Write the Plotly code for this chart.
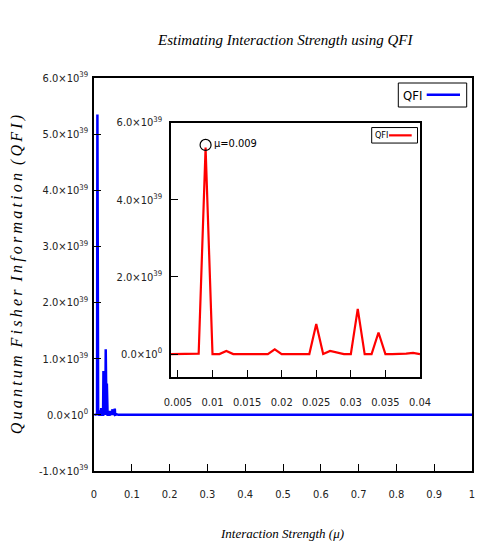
import plotly.graph_objects as go

# Interaction strength (mu) and QFI values
mu_head = [0.001, 0.002, 0.003]
qfi_head = [0.0, 0.0, 0.0]

mu_zoom = [0.004, 0.005, 0.006, 0.007, 0.008, 0.009, 0.010, 0.011, 0.012, 0.013,
           0.014, 0.015, 0.016, 0.017, 0.018, 0.019, 0.020, 0.021, 0.022, 0.023,
           0.024, 0.025, 0.026, 0.027, 0.028, 0.029, 0.030, 0.031, 0.032, 0.033,
           0.034, 0.035, 0.036, 0.037, 0.038, 0.039, 0.040]
qfi_zoom = [0.0, 0.0, 0.0, 0.0, 0.01e39, 5.35e39, 0.0, 0.0, 0.08e39, 0.0,
            0.0, 0.0, 0.0, 0.0, 0.0, 0.12e39, 0.0, 0.0, 0.0, 0.0,
            0.0, 0.78e39, 0.0, 0.08e39, 0.03e39, 0.0, 0.0, 1.17e39, 0.0, 0.0,
            0.56e39, 0.0, 0.0, 0.0, 0.01e39, 0.03e39, 0.0]

mu_tail = [0.041, 0.042, 0.043, 0.045, 0.047, 0.049, 0.050, 0.052, 0.055, 0.056,
           0.060, 0.065, 0.1, 0.2, 0.3, 0.4, 0.5, 0.6, 0.7, 0.8, 0.9, 1.0]
qfi_tail = [0.0, 0.07e39, 0.0, 0.02e39, 0.0, 0.10e39, 0.0, 0.02e39, 0.11e39, 0.0,
            0.01e39, 0.0, 0.0, 0.0, 0.0, 0.0, 0.0, 0.0, 0.0, 0.0, 0.0, 0.0]

peak_mu = 0.009
peak_qfi = 5.42e39
peak_label = "μ=0.009"

main_yticks = [-1e39, 0, 1e39, 2e39, 3e39, 4e39, 5e39, 6e39]
main_ylabels = ["-1.0×10<sup>39</sup>", "0.0×10<sup>0</sup>", "1.0×10<sup>39</sup>",
                "2.0×10<sup>39</sup>", "3.0×10<sup>39</sup>", "4.0×10<sup>39</sup>",
                "5.0×10<sup>39</sup>", "6.0×10<sup>39</sup>"]
main_xticks = [0, 0.1, 0.2, 0.3, 0.4, 0.5, 0.6, 0.7, 0.8, 0.9, 1]
main_xlabels = ["0", "0.1", "0.2", "0.3", "0.4", "0.5", "0.6", "0.7", "0.8", "0.9", "1"]

zoom_yticks = [0, 2e39, 4e39, 6e39]
zoom_ylabels = ["0.0×10<sup>0</sup>", "2.0×10<sup>39</sup>", "4.0×10<sup>39</sup>", "6.0×10<sup>39</sup>"]
zoom_xticks = [0.005, 0.01, 0.015, 0.02, 0.025, 0.03, 0.035, 0.04]
zoom_xlabels = ["0.005", "0.01", "0.015", "0.02", "0.025", "0.03", "0.035", "0.04"]

NARROW = "Liberation Sans Narrow, DejaVu Sans Condensed, Liberation Sans, sans-serif"
TICK_FONT = dict(family=NARROW, size=11, color="#222222")
SERIF = "Liberation Serif, DejaVu Serif, serif"

# page body adds ~8px offset; main plot box in screen pixels
X0, X1, Y0, Y1 = 94, 472, 78, 470.7


def px(x):
    return (x - X0) / (X1 - X0)


def py(y):
    return (Y1 - y) / (Y1 - Y0)


fig = go.Figure()

# Full range curve
fig.add_trace(go.Scatter(
    x=mu_head + mu_zoom + mu_tail, y=qfi_head + qfi_zoom + qfi_tail,
    mode="lines", name="QFI", line=dict(color="#0000ff", width=2.5),
    xaxis="x", yaxis="y", showlegend=False
))

# Inset (zoomed) curve
fig.add_trace(go.Scatter(
    x=mu_zoom, y=qfi_zoom, mode="lines", name="QFI",
    line=dict(color="#ff0000", width=2.2),
    xaxis="x2", yaxis="y2", showlegend=False
))

# Circle marking the peak
fig.add_trace(go.Scatter(
    x=[peak_mu], y=[peak_qfi], mode="markers", showlegend=False,
    marker=dict(symbol="circle-open", size=11, color="#000000", line=dict(width=1.2)),
    xaxis="x2", yaxis="y2"
))

axis_common = dict(ticks="inside", ticklen=7, tickcolor="#000000",
                   showline=True, mirror=True, linecolor="#000000", linewidth=1.5,
                   showgrid=False, zeroline=False, tickfont=TICK_FONT, automargin=False)

fig.update_layout(
    width=483, height=537,
    margin=dict(l=86, r=19, t=70, b=74),
    paper_bgcolor="#ffffff", plot_bgcolor="#ffffff",
    xaxis=dict(range=[0, 1], tickvals=main_xticks, ticktext=main_xlabels,
               ticklabelstandoff=12, **axis_common),
    yaxis=dict(range=[-1e39, 6e39], tickvals=main_yticks, ticktext=main_ylabels,
               ticklabelstandoff=2, **axis_common),
    xaxis2=dict(domain=[px(171), px(420)], anchor="y2", range=[0.004, 0.04],
                tickvals=zoom_xticks, ticktext=zoom_xlabels,
                ticklabelstandoff=14, **axis_common),
    yaxis2=dict(domain=[py(377), py(122.5)], anchor="x2", range=[-0.6e39, 6e39],
                tickvals=zoom_yticks, ticktext=zoom_ylabels,
                ticklabelstandoff=5, **axis_common),
    shapes=[
        # main legend
        dict(type="rect", xref="paper", yref="paper", x0=px(398.3), x1=px(466.7),
             y0=py(107), y1=py(83), line=dict(color="#000000", width=1), fillcolor="#ffffff"),
        dict(type="line", xref="paper", yref="paper", x0=px(426.7), x1=px(460),
             y0=py(94.7), y1=py(94.7), line=dict(color="#0000ff", width=2.5)),
        # inset legend
        dict(type="rect", xref="paper", yref="paper", x0=px(371.7), x1=px(417.5),
             y0=py(143), y1=py(127.5), line=dict(color="#000000", width=1), fillcolor="#ffffff"),
        dict(type="line", xref="paper", yref="paper", x0=px(389), x1=px(411.7),
             y0=py(135.3), y1=py(135.3), line=dict(color="#ff0000", width=2.2)),
    ],
    annotations=[
        dict(text="Estimating Interaction Strength using QFI", x=px(285), y=py(40),
             xref="paper", yref="paper", xanchor="center", yanchor="middle", showarrow=False,
             font=dict(family=SERIF, size=15, color="#000000", style="italic")),
        dict(text="Interaction Strength (μ)", x=px(282), y=py(533), xref="paper", yref="paper",
             xanchor="center", yanchor="middle",
             showarrow=False, font=dict(family=SERIF, size=13, color="#000000", style="italic")),
        dict(text="Q\u2009u\u2009a\u2009n\u2009t\u2009u\u2009m  F\u2009i\u2009s\u2009h\u2009e\u2009r  "
                  "I\u2009n\u2009f\u2009o\u2009r\u2009m\u2009a\u2009t\u2009i\u2009o\u2009n  (\u2009Q\u2009F\u2009I\u2009)",
             x=px(17), y=py(275), xref="paper", yref="paper", textangle=-90,
             xanchor="center", yanchor="middle",
             showarrow=False, font=dict(family=SERIF, size=16, color="#000000", style="italic")),
        dict(text=peak_label, x=0.00988, y=5.46e39, xref="x2", yref="y2",
             xanchor="left", yanchor="middle",
             showarrow=False, font=dict(family=NARROW, size=11, color="#000000")),
        dict(text="QFI", x=px(400.5), y=py(95), xref="paper", yref="paper",
             xanchor="left", yanchor="middle", showarrow=False,
             font=dict(family=NARROW, size=13, color="#000000")),
        dict(text="QFI", x=px(372.5), y=py(135.3), xref="paper", yref="paper",
             xanchor="left", yanchor="middle", showarrow=False,
             font=dict(family=NARROW, size=9, color="#000000")),
    ],
)

fig.write_html("out.html")
